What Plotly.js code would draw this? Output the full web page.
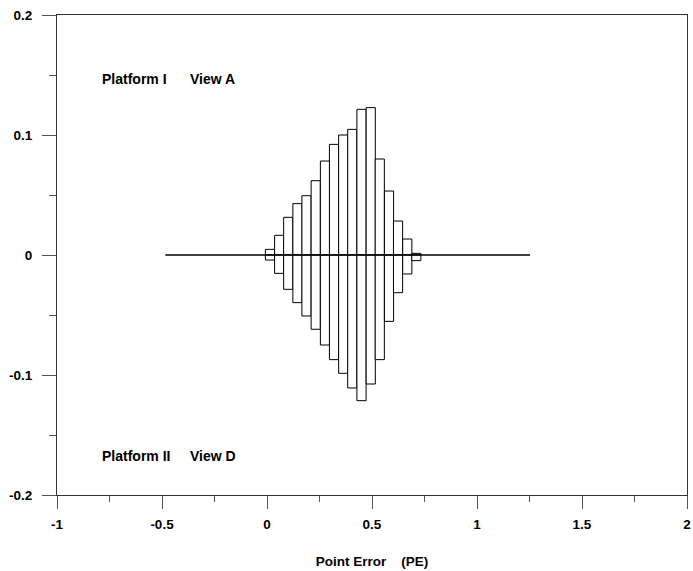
<!DOCTYPE html>
<html>
<head>
<meta charset="utf-8">
<script src="https://cdn.plot.ly/plotly-3.0.1.min.js"></script>
<style>body{margin:0;padding:0;background:#fff;} #chart{width:693px;height:571px;}</style>
</head>
<body>
<div id="chart"></div>
<script>
// Bin centres of the point-error histogram
const binCenters = [0.014, 0.058, 0.101, 0.145, 0.188, 0.232, 0.276, 0.319, 0.363, 0.406, 0.450, 0.494, 0.537, 0.581, 0.624, 0.668, 0.711];
// Platform I / View A (upper)
const viewA = [0.0047, 0.0164, 0.0314, 0.0428, 0.0494, 0.0619, 0.0783, 0.0922, 0.1000, 0.1047, 0.1214, 0.1228, 0.0800, 0.0533, 0.0283, 0.0133, 0.0014];
// Platform II / View D (lower, plotted negative)
const viewD = [-0.0042, -0.0153, -0.0286, -0.0397, -0.0508, -0.0619, -0.0750, -0.0872, -0.0986, -0.1108, -0.1214, -0.1075, -0.0872, -0.0553, -0.0314, -0.0158, -0.0047];
// Zero reference line extent
const refLineX = [-0.484, 1.253];
const refLineY = [0, 0];
const xTickVals = [-1, -0.5, 0, 0.5, 1, 1.5, 2];
const xTickText = ['-1', '-0.5', '0', '0.5', '1', '1.5', '2'];
const yTickVals = [-0.2, -0.1, 0, 0.1, 0.2];
const yTickText = ['-0.2', '-0.1', '0', '0.1', '0.2'];

const barStyle = {color: '#ffffff', line: {color: '#000000', width: 1}};
const BW = 0.0436;

const traces = [
  {type: 'bar', x: binCenters, y: viewA, width: BW, marker: barStyle, hoverinfo: 'x+y', showlegend: false},
  {type: 'bar', x: binCenters, y: viewD, width: BW, marker: barStyle, hoverinfo: 'x+y', showlegend: false},
  {type: 'scatter', mode: 'lines', x: refLineX, y: refLineY, line: {color: '#000000', width: 1.3}, hoverinfo: 'skip', showlegend: false}
];

const fontFam = 'Liberation Sans, Arial, sans-serif';
const tickFont = {family: fontFam, size: 13.5, weight: 'bold', color: '#000'};
const layout = {
  width: 693, height: 571,
  margin: {l: 57, r: 6, t: 15, b: 76, pad: 0},
  paper_bgcolor: '#ffffff', plot_bgcolor: '#ffffff',
  barmode: 'overlay',
  bargap: 0,
  font: {family: fontFam, color: '#000000', size: 13.5, weight: 'bold'},
  xaxis: {
    range: [-1, 2], showgrid: false, zeroline: false,
    showline: true, linecolor: '#333333', linewidth: 1, mirror: true,
    ticks: 'outside', ticklen: 13, tickcolor: '#555555', tickwidth: 1,
    tickvals: xTickVals, ticktext: xTickText,
    ticklabelstandoff: 4,
    tickfont: tickFont,
    minor: {dtick: 0.25, tick0: 0, ticks: 'outside', ticklen: 6, tickcolor: '#555555', tickwidth: 1, showgrid: false},
    title: {text: 'Point Error    (PE)', font: {family: fontFam, size: 13.5, weight: 'bold', color: '#000'}, standoff: 25}
  },
  yaxis: {
    range: [-0.2, 0.2], showgrid: false, zeroline: false,
    showline: true, linecolor: '#333333', linewidth: 1, mirror: true,
    ticks: 'outside', ticklen: 14, tickcolor: '#555555', tickwidth: 1,
    tickvals: yTickVals, ticktext: yTickText,
    ticklabelstandoff: 7,
    tickfont: tickFont,
    minor: {dtick: 0.05, tick0: 0, ticks: 'outside', ticklen: 7, tickcolor: '#555555', tickwidth: 1, showgrid: false}
  },
  annotations: [
    {xref: 'paper', yref: 'paper', x: (100 - 57) / 630, y: (495 - 79) / 480, xanchor: 'left', yanchor: 'middle',
     text: 'Platform I&nbsp;&nbsp;&nbsp;&nbsp;&nbsp;&nbsp;View A', showarrow: false,
     font: {family: fontFam, size: 14, weight: 'bold', color: '#000'}},
    {xref: 'paper', yref: 'paper', x: (100 - 57) / 630, y: (495 - 456) / 480, xanchor: 'left', yanchor: 'middle',
     text: 'Platform II&nbsp;&nbsp;&nbsp;&nbsp;&nbsp;View D', showarrow: false,
     font: {family: fontFam, size: 14, weight: 'bold', color: '#000'}}
  ]
};

Plotly.newPlot('chart', traces, layout, {displayModeBar: false, staticPlot: true});
</script>
</body>
</html>
